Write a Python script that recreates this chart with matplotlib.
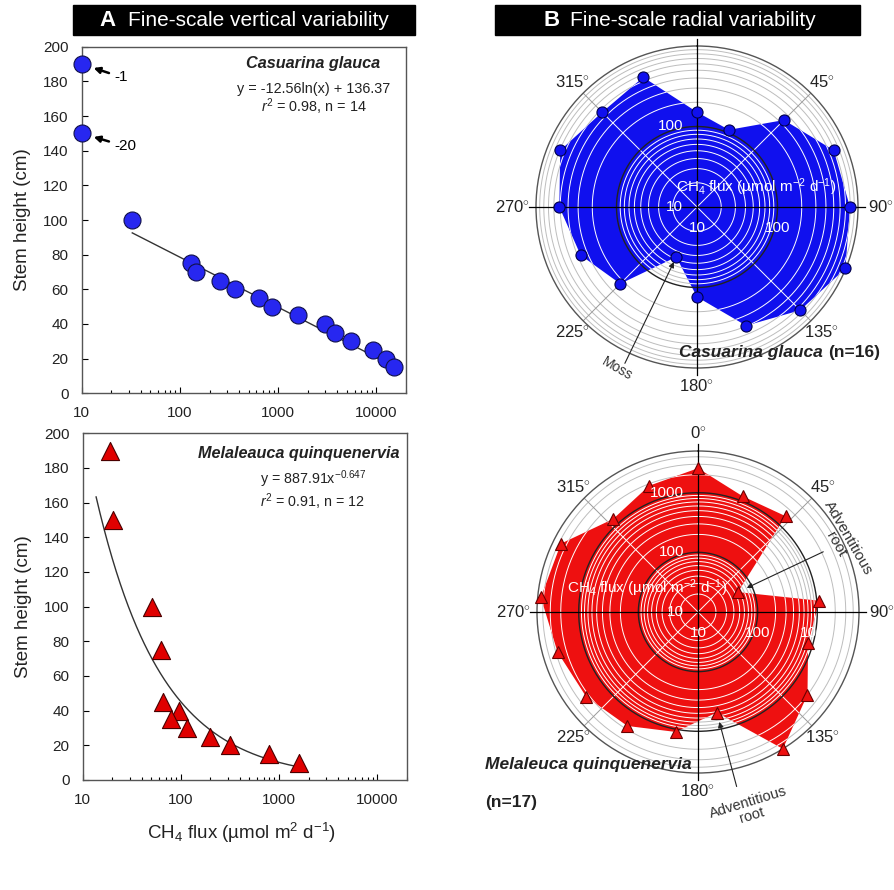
import numpy as np
import matplotlib
matplotlib.use('Agg')
import matplotlib.pyplot as plt
from matplotlib.patches import Rectangle
from matplotlib.ticker import FuncFormatter, NullLocator, LogLocator

plt.rcParams['font.family'] = ['Liberation Sans', 'DejaVu Sans']
plt.rcParams['mathtext.fontset'] = 'custom'
plt.rcParams['mathtext.rm'] = 'Liberation Sans'
plt.rcParams['mathtext.it'] = 'Liberation Sans:italic'
plt.rcParams['mathtext.bf'] = 'Liberation Sans:bold'

# --- A: vertical profiles (stem height vs CH4 flux) ---
cg_flux = [32.7, 130, 147, 254, 363, 631, 870, 1600, 3000, 3800, 5500, 9300, 12500, 15000]
cg_height = [100, 75, 70, 65, 60, 55, 50, 45, 40, 35, 30, 25, 20, 15]
# negative fluxes, drawn on the left axis
cg_neg_height = [190, 150]
cg_neg_labels = ['-1', '-20']
cg_fit = (-12.56, 136.37)          # y = a ln(x) + b
cg_fit_range = (32.7, 15000)

mq_flux = [19, 20.5, 51, 63, 66, 95, 80, 115, 200, 320, 800, 1600]
mq_height = [190, 150, 100, 75, 45, 40, 35, 30, 25, 20, 15, 10]
mq_fit = (887.91, -0.647)          # y = a x^b
mq_fit_range = (13.7, 1500)

# --- B: radial profiles (CH4 flux around the stem) ---
cg_angles = [0, 22.5, 45, 67.5, 90, 112.5, 135, 157.5, 180, 202.5, 225, 247.5, 270, 292.5, 315, 337.5]
cg_radial = [151, 109, 337, 690, 795, 990, 651, 394, 131, 47, 223, 367, 513, 690, 463, 556]

mq_angles = [0, 21.2, 42.4, 63.5, 84.7, 105.9, 127.1, 148.2, 169.4, 190.6, 211.8, 232.9, 254.1, 275.3, 296.5, 317.6, 338.8]
mq_radial = [2570, 1200, 1500, 56, 1100, 830, 2000, 5000, 518, 1110, 1770, 2250, 2810, 4420, 3700, 1290, 1860]

angle_ticks = [0, 45, 90, 135, 180, 225, 270, 315]

W, H = 894.0, 890.0
fig = plt.figure(figsize=(8.94, 8.90), dpi=100)


def title_bar(x0, x1, letter, text, lx, tx):
    fig.add_artist(Rectangle((x0 / W, 1 - 35 / H), (x1 - x0) / W, 30 / H,
                             transform=fig.transFigure, color='black', zorder=0))
    fig.text(lx / W, 1 - 20.5 / H, letter, color='white', fontsize=16,
             fontweight='bold', ha='center', va='center')
    fig.text(tx / W, 1 - 20.5 / H, text, color='white', fontsize=15,
             ha='left', va='center')


def style_xy(ax):
    ax.set_xscale('log')
    ax.set_xlim(10, 20000)
    ax.set_ylim(0, 200)
    ax.set_yticks(range(0, 201, 20))
    ax.xaxis.set_major_locator(LogLocator(base=10, numticks=10))
    ax.xaxis.set_minor_locator(LogLocator(base=10, subs=np.arange(2, 10), numticks=20))
    ax.xaxis.set_major_formatter(FuncFormatter(lambda v, _: '%d' % v))
    ax.tick_params(which='both', direction='in', width=0.8, labelsize=11, pad=9.5,
                   labelcolor='#222222')
    ax.tick_params(which='major', length=4)
    ax.tick_params(which='minor', length=2.5)
    for s in ax.spines.values():
        s.set_color('#555555')
        s.set_linewidth(1.0)
    ax.set_ylabel('Stem height (cm)', fontsize=13.5, color='#222222')
    ax.yaxis.set_label_coords(-0.157, 0.5)


# ---------- A top: Casuarina glauca ----------
ax1 = fig.add_axes([0.0914, 0.5581, 0.3628, 0.3894])
xs = np.geomspace(*cg_fit_range, 200)
ax1.plot(xs, cg_fit[0] * np.log(xs) + cg_fit[1], color='#333333', lw=1.0, zorder=2)
ax1.scatter(cg_flux, cg_height, s=150, c='#2727f0', edgecolors='#10104a', linewidths=0.8, zorder=3)
ax1.scatter([10] * len(cg_neg_height), cg_neg_height, s=150, c='#2727f0', edgecolors='#10104a',
            linewidths=0.8, zorder=3, clip_on=False)
for h, lab in zip(cg_neg_height, cg_neg_labels):
    ax1.annotate(lab, xy=(10, h), xytext=(21.5, h - 7.5), fontsize=11, va='center', ha='left',
                 arrowprops=dict(arrowstyle='-|>', color='black', lw=1.8, mutation_scale=9,
                                 shrinkA=2, shrinkB=9))
style_xy(ax1)
ax1.text(0.92, 0.953, 'Casuarina glauca', transform=ax1.transAxes, ha='right', va='center',
         fontsize=11.7, fontweight='bold', style='italic', color='#222222')
ax1.text(0.714, 0.878, 'y = -12.56ln(x) + 136.37', transform=ax1.transAxes, ha='center',
         va='center', fontsize=10.4, color='#222222')
ax1.text(0.716, 0.826, '$\\mathit{r}^2$ = 0.98, n = 14', transform=ax1.transAxes, ha='center',
         va='center', fontsize=10.4, color='#222222')

# ---------- A bottom: Melaleuca quinquenervia ----------
ax2 = fig.add_axes([0.0925, 0.1236, 0.3624, 0.3896])
xs = np.geomspace(*mq_fit_range, 200)
ax2.plot(xs, mq_fit[0] * xs ** mq_fit[1], color='#333333', lw=1.0, zorder=2)
ax2.scatter(mq_flux, mq_height, s=170, marker='^', c='#e00000', edgecolors='#4a0000',
            linewidths=0.8, zorder=3)
style_xy(ax2)
ax2.set_xlabel('CH$_4$ flux (\u00b5mol m$^2$ d$^{-1}$)', fontsize=13.5, color='#222222')
ax2.xaxis.set_label_coords(0.49, -0.119)
ax2.text(0.979, 0.942, 'Melaleauca quinquenervia', transform=ax2.transAxes, ha='right',
         va='center', fontsize=11.7, fontweight='bold', style='italic', color='#222222')
ax2.text(0.548, 0.853, 'y = 887.91x$^{-0.647}$', transform=ax2.transAxes, ha='left',
         va='baseline', fontsize=10.3, color='#222222')
ax2.text(0.548, 0.786, '$\\mathit{r}^2$ = 0.91, n = 12', transform=ax2.transAxes, ha='left',
         va='baseline', fontsize=10.3, color='#222222')


# ---------- B: polar plots ----------
def draw_polar(ax, angles, values, rmax, color, edge, marker, ms, show_labels):
    theta = np.deg2rad(angles)
    ax.set_theta_zero_location('N')
    ax.set_theta_direction(-1)
    ax.set_rscale('log')
    ax.set_rlim(10, rmax)
    ax.set_xticks([])
    ax.yaxis.set_major_locator(NullLocator())
    ax.yaxis.set_minor_locator(NullLocator())
    ax.grid(False)
    ax.spines['polar'].set_color('#555555')
    ax.spines['polar'].set_linewidth(1.0)

    decades = [10 ** d for d in range(2, int(np.log10(rmax)) + 1) if 10 ** d < rmax]
    rings = [k * 10 ** d for d in range(1, 4) for k in range(1, 10)
             if 10 < k * 10 ** d < rmax and k * 10 ** d not in decades]
    circ = np.linspace(0, 2 * np.pi, 400)

    for r in rings:
        ax.plot(circ, np.full_like(circ, r), color='#bdbdbd', lw=0.7, zorder=1)
    for a in [45, 135, 225, 315]:
        ax.plot([np.deg2rad(a)] * 2, [10, rmax], color='#9a9a9a', lw=0.7, zorder=1)

    th = np.append(theta, theta[0])
    vv = np.append(values, values[0])
    poly = ax.fill(th, vv, color=color, lw=0, zorder=2)[0]

    for r in rings:
        ln, = ax.plot(circ, np.full_like(circ, r), color='white', lw=0.7, zorder=3)
        ln.set_clip_path(poly)
    for a in [45, 135, 225, 315]:
        ln, = ax.plot([np.deg2rad(a)] * 2, [10, rmax], color='white', lw=0.7, zorder=3)
        ln.set_clip_path(poly)
    for r in decades:
        ax.plot(circ, np.full_like(circ, r), color='#222222', lw=1.0, zorder=3.5)
    for a in [0, 90, 180, 270]:
        ax.plot([np.deg2rad(a)] * 2, [10, rmax * 1.15 ** (np.log10(rmax) / 2)], color='black',
                lw=0.9, zorder=4, clip_on=False)

    ax.plot(theta, values, ls='none', marker=marker, ms=ms, mfc=color, mec=edge, mew=0.8,
            zorder=5, clip_on=False)

    # angle labels
    for a in angle_ticks:
        if a not in show_labels:
            continue
        t = np.deg2rad(a)
        R = 0.548 if a % 90 else (0.572 if a in (90, 270) else 0.556)
        ax.text(0.5 + R * np.sin(t), 0.5 + R * np.cos(t), '%d$^{\\circ}$' % a,
                transform=ax.transAxes, ha='center', va='center', fontsize=12, color='#222222')

    # ring labels (white, inside)
    for r in [10] + decades:
        ax.annotate('%d' % r, xy=(0, r), xytext=(-10, 0), textcoords='offset points',
                    ha='right', va='center', color='white', fontsize=11, zorder=6)
        ax.annotate('%d' % r, xy=(np.pi / 2, r), xytext=(0, -15), textcoords='offset points',
                    ha='center', va='center', color='white', fontsize=11, zorder=6)


ax3 = fig.add_axes([536 / W, 1 - 368 / H, 322 / W, 322 / H], projection='polar')
draw_polar(ax3, cg_angles, cg_radial, 1000, '#1010ee', '#00004a', 'o', 8,
           [45, 90, 135, 180, 225, 270, 315])
ax3.text(0.683, 0.562, 'CH$_4$ flux (\u00b5mol m$^{-2}$ d$^{-1}$)', transform=ax3.transAxes,
         ha='center', va='center', color='white', fontsize=11, zorder=6)
moss_i = cg_radial.index(min(cg_radial))
ax3.annotate('', xy=(np.deg2rad(cg_angles[moss_i]), cg_radial[moss_i]), xytext=(0.276, 0.0145),
             textcoords='axes fraction',
             arrowprops=dict(arrowstyle='-|>', color='#222222', lw=0.8, mutation_scale=8,
                             shrinkA=0, shrinkB=4), zorder=6, annotation_clip=False)
ax3.text(0.253, -0.003, 'Moss', transform=ax3.transAxes, rotation=-30, ha='center',
         va='center', fontsize=10, color='#333333')

ax4 = fig.add_axes([537 / W, 1 - 773 / H, 322 / W, 322 / H], projection='polar')
draw_polar(ax4, mq_angles, mq_radial, 5000, '#ee1010', '#6a0000', '^', 8.5, angle_ticks)
ax4.text(0.3425, 0.5736, 'CH$_4$ flux (\u00b5mol m$^{-2}$ d$^{-1}$)', transform=ax4.transAxes,
         ha='center', va='center', color='white', fontsize=11, zorder=6)
root_a = mq_radial.index(min(mq_radial))
ax4.annotate('', xy=(np.deg2rad(mq_angles[root_a]), mq_radial[root_a]), xytext=(0.889, 0.687),
             textcoords='axes fraction',
             arrowprops=dict(arrowstyle='-|>', color='#222222', lw=0.8, mutation_scale=8,
                             shrinkA=0, shrinkB=7), zorder=6, annotation_clip=False)
ax4.text(0.947, 0.72, 'Adventitious\nroot', transform=ax4.transAxes, rotation=-60,
         ha='center', va='center', fontsize=11, color='#333333', linespacing=1.0)
root_b = mq_angles.index(169.4)
ax4.annotate('', xy=(np.deg2rad(mq_angles[root_b]), mq_radial[root_b]), xytext=(0.62, -0.042),
             textcoords='axes fraction',
             arrowprops=dict(arrowstyle='-|>', color='#222222', lw=0.8, mutation_scale=8,
                             shrinkA=0, shrinkB=7), zorder=6, annotation_clip=False)
ax4.text(0.6615, -0.1118, 'Adventitious\nroot', transform=ax4.transAxes, rotation=17,
         ha='center', va='center', fontsize=10.5, color='#333333', linespacing=1.0)

# species labels for the polar panels
fig.text(823 / W, 1 - 352 / H, 'Casuarina glauca', ha='right', va='center', fontsize=12.5,
         fontweight='bold', style='italic', color='#222222')
fig.text(828 / W, 1 - 352 / H, '(n=16)', ha='left', va='center', fontsize=12.5,
         fontweight='bold', color='#222222')
fig.text(485 / W, 1 - 765 / H, 'Melaleuca quinquenervia', ha='left', va='center', fontsize=12.5,
         fontweight='bold', style='italic', color='#222222')
fig.text(485 / W, 1 - 802 / H, '(n=17)', ha='left', va='center', fontsize=12.5,
         fontweight='bold', color='#222222')

title_bar(73, 415, 'A', 'Fine-scale vertical variability', 107, 128)
title_bar(495, 860, 'B', 'Fine-scale radial variability', 552, 570)

fig.savefig('out.png', dpi=100)
